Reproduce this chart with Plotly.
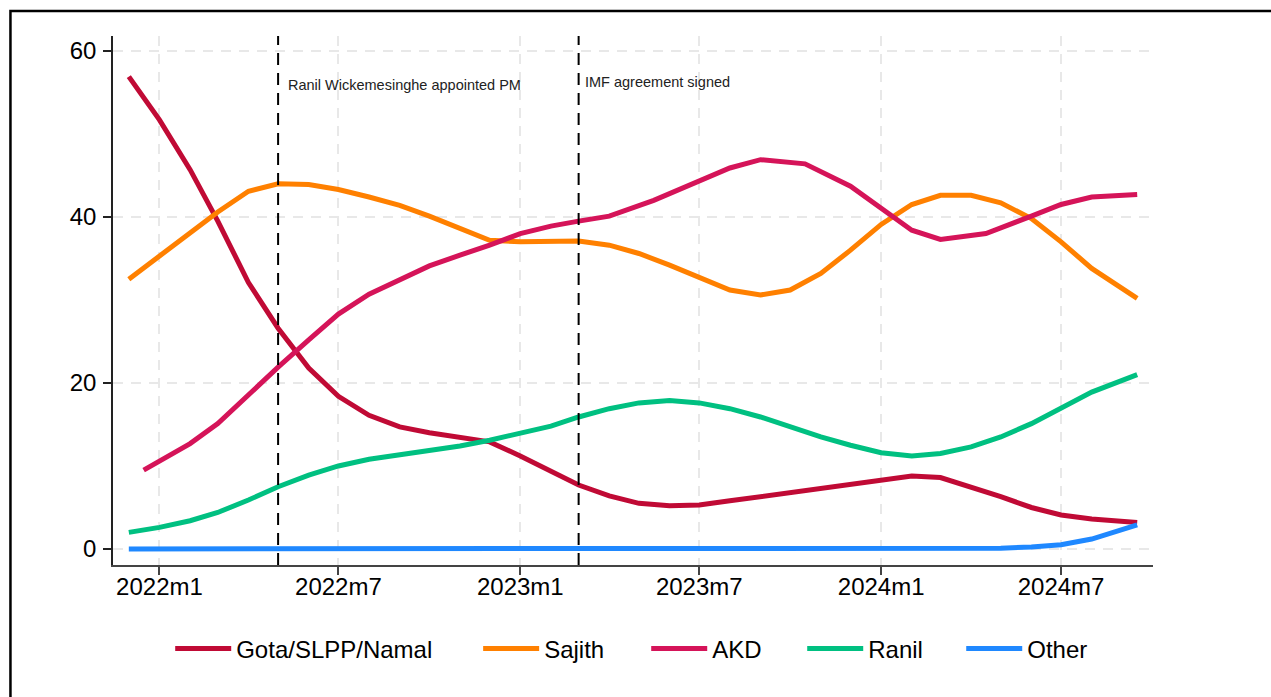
import plotly.graph_objects as go

# ---------------- data ----------------
base_dates = [
    "2021-12-01", "2022-01-01", "2022-02-01", "2022-03-01", "2022-04-01", "2022-05-01",
    "2022-06-01", "2022-07-01", "2022-08-01", "2022-09-01", "2022-10-01", "2022-11-01",
    "2022-12-01", "2023-01-01", "2023-02-01", "2023-03-01", "2023-04-01", "2023-05-01",
    "2023-06-01", "2023-07-01", "2023-08-01", "2023-09-01", "2023-10-01", "2023-11-01",
    "2023-12-01", "2024-01-01", "2024-02-01", "2024-03-01", "2024-04-01", "2024-05-01",
    "2024-06-01", "2024-07-01", "2024-08-01", "2024-09-16",
]
gota = [56.9, 51.7, 45.7, 39.5, 32.1, 26.6, 21.8, 18.4, 16.1, 14.7, 14.0, 13.5,
        12.9, 11.2, 9.3, 7.7, 6.4, 5.5, 5.2, 5.3, 5.8, 6.3, 6.7, 7.2,
        7.7, 8.3, 8.8, 8.6, 7.5, 6.3, 5.0, 4.1, 3.6, 3.2]
sajith = [32.5, 35.3, 38.2, 40.6, 43.1, 44.0, 43.9, 43.3, 42.4, 41.4, 40.1, 38.6,
          37.2, 37.0, 37.1, 37.1, 36.6, 35.6, 34.2, 32.7, 31.2, 30.6, 31.2, 33.2,
          36.0, 39.1, 41.5, 42.6, 42.6, 41.7, 39.8, 37.0, 33.8, 30.2]
ranil = [2.0, 2.6, 3.4, 4.4, 5.9, 7.5, 8.9, 10.0, 10.8, 11.3, 11.8, 12.4,
         13.1, 13.9, 14.8, 15.9, 16.9, 17.6, 17.9, 17.6, 16.9, 15.9, 14.7, 13.5,
         12.5, 11.6, 11.2, 11.5, 12.3, 13.5, 15.1, 17.0, 18.9, 21.0]
other = [0, 0, 0, 0, 0, 0, 0, 0, 0, 0, 0, 0,
         0, 0, 0, 0, 0, 0, 0, 0, 0, 0, 0, 0,
         0, 0, 0, 0.02, 0.05, 0.1, 0.25, 0.5, 1.2, 2.9]

akd_dates = [
    "2021-12-16", "2022-02-01", "2022-03-01", "2022-04-01", "2022-05-01", "2022-06-01",
    "2022-07-01", "2022-08-01", "2022-09-01", "2022-10-01", "2022-11-01", "2022-12-01",
    "2023-01-01", "2023-02-01", "2023-03-01", "2023-04-01", "2023-05-16", "2023-07-01",
    "2023-08-01", "2023-09-01", "2023-10-16", "2023-12-01", "2024-01-01", "2024-02-01",
    "2024-03-01", "2024-04-16", "2024-06-01", "2024-07-01", "2024-08-01", "2024-09-16",
]
akd = [9.5, 12.7, 15.1, 18.6, 21.9, 25.2, 28.3, 30.7, 32.5, 34.1, 35.4, 36.6,
       38.0, 38.9, 39.5, 40.1, 42.0, 44.3, 45.9, 46.9, 46.4, 43.7, 41.1, 38.4,
       37.3, 38.0, 40.1, 41.5, 42.4, 42.7]

tick_vals = ["2022-01-01", "2022-07-01", "2023-01-01", "2023-07-01", "2024-01-01", "2024-07-01"]
tick_text = ["2022m1", "2022m7", "2023m1", "2023m7", "2024m1", "2024m7"]

events = [("2022-05-01", "Ranil Wickemesinghe appointed PM", 55.9, 8),
          ("2023-03-01", "IMF agreement signed", 56.2, 4)]

series = [
    ("Gota/SLPP/Namal", base_dates, gota, "#C00A35"),
    ("Sajith", base_dates, sajith, "#FF8000"),
    ("AKD", akd_dates, akd, "#D51459"),
    ("Ranil", base_dates, ranil, "#00C081"),
    ("Other", base_dates, other, "#1F88FF"),
]
legend_x = [0.0550, 0.3511, 0.5127, 0.6627, 0.8156]

FONT = "Liberation Sans, Arial, Helvetica, sans-serif"

fig = go.Figure()
legend_layouts = {}
for i, (name, xs, ys, col) in enumerate(series):
    key = "legend" if i == 0 else f"legend{i + 1}"
    fig.add_trace(go.Scatter(x=xs, y=ys, name=name, mode="lines",
                             line=dict(color=col, width=5), legend=key))
    legend_layouts[key] = dict(orientation="h", x=legend_x[i], xanchor="left",
                               y=-0.1588, yanchor="middle",
                               font=dict(size=24, family=FONT, color="black"),
                               itemwidth=56, bgcolor="rgba(0,0,0,0)")

shapes = []
annotations = []
for d, label, ypos, xs in events:
    shapes.append(dict(type="line", xref="x", yref="paper", x0=d, x1=d, y0=0, y1=1,
                       line=dict(color="black", width=2, dash="12px,8px"), layer="above"))
    annotations.append(dict(x=d, y=ypos, xref="x", yref="y", text=label, showarrow=False,
                            xanchor="left", yanchor="middle", xshift=xs,
                            font=dict(size=14.5, color="#222", family=FONT)))

# outer frame
shapes.append(dict(type="rect", xref="paper", yref="paper",
                   x0=-0.0986, x1=1.3, y0=-0.5, y1=1.0473,
                   line=dict(color="black", width=2.5), fillcolor="rgba(0,0,0,0)", layer="below"))

fig.update_layout(
    width=1271, height=697,
    margin=dict(l=113, r=118, t=36, b=132),
    paper_bgcolor="white", plot_bgcolor="white",
    font=dict(family=FONT, color="black", size=24),
    shapes=shapes, annotations=annotations,
    showlegend=True,
    xaxis=dict(range=["2021-11-15", "2024-10-02"], tickvals=tick_vals, ticktext=tick_text,
               showgrid=True, gridcolor="#e8e8e8", griddash="10px,8px", gridwidth=1.5,
               showline=True, linecolor="#444", linewidth=2,
               ticks="outside", ticklen=8, tickcolor="#444", tickwidth=1.5,
               tickfont=dict(size=24), zeroline=False, ticklabelstandoff=-9),
    yaxis=dict(range=[-1.93, 61.8], tickvals=[0, 20, 40, 60],
               showgrid=True, gridcolor="#e8e8e8", griddash="10px,8px", gridwidth=1.5,
               showline=True, linecolor="#222", linewidth=1.5,
               ticks="outside", ticklen=8, tickcolor="#222", tickwidth=1.5,
               tickfont=dict(size=24), zeroline=False, ticklabelstandoff=2),
    **legend_layouts,
)

fig.write_html("out.html", config={"displayModeBar": False},
               post_script="document.body.style.margin='0';document.body.style.overflow='hidden';")
